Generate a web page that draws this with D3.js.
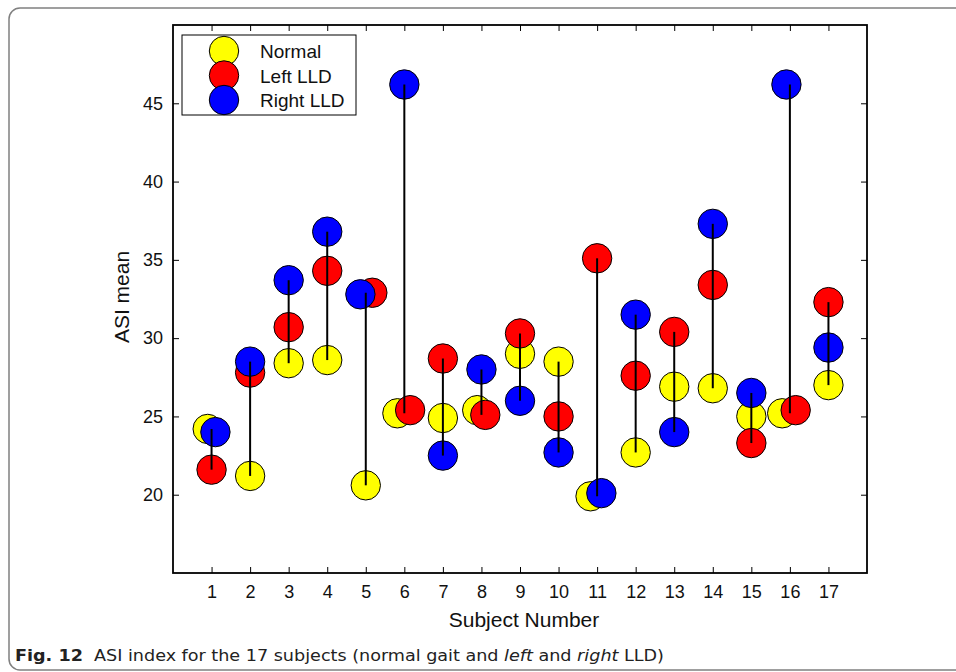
<!DOCTYPE html>
<html>
<head>
<meta charset="utf-8">
<script src="https://cdn.jsdelivr.net/npm/d3@7"></script>
<style>
  body { margin: 0; background: #fff; }
  svg { display: block; font-family: "Liberation Sans", Arial, sans-serif; }
</style>
</head>
<body>
<div id="chart"></div>
<script>
// Data
const subjects = [1, 2, 3, 4, 5, 6, 7, 8, 9, 10, 11, 12, 13, 14, 15, 16, 17];
const normal   = [24.2, 21.2, 28.4, 28.6, 20.6, 25.2, 24.9, 25.4, 29.0, 28.5, 19.9, 22.7, 26.9, 26.8, 25.0, 25.2, 27.0];
const leftLLD  = [21.6, 27.8, 30.7, 34.3, 32.9, 25.4, 28.7, 25.1, 30.3, 25.0, 35.1, 27.6, 30.4, 33.4, 23.3, 25.4, 32.3];
const rightLLD = [24.0, 28.5, 33.7, 36.8, 32.8, 46.2, 22.5, 28.0, 26.0, 22.7, 20.1, 31.5, 24.0, 37.3, 26.5, 46.2, 29.4];
// small sideways shifts (subject units) used in the figure where markers overlap
const normalShift = [-0.1, 0, 0, 0, 0, -0.18, 0, -0.11, 0, 0, -0.17, 0, 0, 0, 0, -0.2, 0];
const leftShift   = [0, 0, 0, 0, 0.17, 0.15, 0, 0.1, 0, 0, 0, 0, 0, 0, 0, 0.15, 0];
const rightShift  = [0.1, 0, 0, 0, -0.14, 0, 0, 0, 0, 0, 0.11, 0, 0, 0, 0, -0.09, 0];
const yTicks = [20, 25, 30, 35, 40, 45];
const seriesNames = ["Normal", "Left LLD", "Right LLD"];
const seriesColors = ["#ffff00", "#ff0000", "#0000ff"];

const W = 956, H = 672;
const plot = { left: 173, right: 867, top: 25, bottom: 573 };

const svg = d3.select("#chart")
    .append("svg")
    .attr("width", W)
    .attr("height", H);

// Outer figure frame
svg.append("rect")
    .attr("x", 9).attr("y", 8)
    .attr("width", 1000).attr("height", 662)
    .attr("rx", 11)
    .attr("fill", "none")
    .attr("stroke", "#808080")
    .attr("stroke-width", 1.5);

// Scales
const x = d3.scaleLinear().domain([0, 18]).range([plot.left, plot.right]);
const y = d3.scaleLinear().domain([15, 50]).range([plot.bottom, plot.top]);

const tickLen = 6;

// Axes (ticks pointing inward, box all around)
const xAxis = svg.append("g")
    .attr("transform", `translate(0,${plot.bottom})`)
    .call(d3.axisBottom(x).tickValues(subjects).tickSizeInner(-tickLen).tickSizeOuter(0).tickPadding(12));
const xTop = svg.append("g")
    .attr("transform", `translate(0,${plot.top})`)
    .call(d3.axisTop(x).tickValues(subjects).tickSizeInner(-tickLen).tickSizeOuter(0).tickFormat(""));
const yAxis = svg.append("g")
    .attr("transform", `translate(${plot.left},0)`)
    .call(d3.axisLeft(y).tickValues(yTicks).tickSizeInner(-tickLen).tickSizeOuter(0).tickPadding(10));
const yRight = svg.append("g")
    .attr("transform", `translate(${plot.right},0)`)
    .call(d3.axisRight(y).tickValues(yTicks).tickSizeInner(-tickLen).tickSizeOuter(0).tickFormat(""));

[xAxis, xTop, yAxis, yRight].forEach(g => {
    g.select(".domain").remove();
    g.selectAll(".tick line").attr("stroke", "#000").attr("stroke-width", 1);
    g.selectAll(".tick text")
        .attr("font-family", "Liberation Sans, Arial, sans-serif")
        .attr("font-size", 18)
        .attr("fill", "#111");
});

// Box
svg.append("rect")
    .attr("x", plot.left).attr("y", plot.top)
    .attr("width", plot.right - plot.left)
    .attr("height", plot.bottom - plot.top)
    .attr("fill", "none")
    .attr("stroke", "#000")
    .attr("stroke-width", 1.8);

// Markers: yellow, then red, then blue on top
const r = 14.7;
const series = [
    { values: normal, shift: normalShift, color: seriesColors[0] },
    { values: leftLLD, shift: leftShift, color: seriesColors[1] },
    { values: rightLLD, shift: rightShift, color: seriesColors[2] }
];
series.forEach(s => {
    svg.append("g")
        .selectAll("circle")
        .data(subjects)
        .join("circle")
        .attr("cx", (d, i) => x(d + s.shift[i]))
        .attr("cy", (d, i) => y(s.values[i]))
        .attr("r", r)
        .attr("fill", s.color)
        .attr("stroke", "#000")
        .attr("stroke-width", 1);
});

// Range lines drawn over the markers
svg.append("g")
    .selectAll("line")
    .data(subjects)
    .join("line")
    .attr("x1", d => x(d))
    .attr("x2", d => x(d))
    .attr("y1", (d, i) => y(Math.min(normal[i], leftLLD[i], rightLLD[i])))
    .attr("y2", (d, i) => y(Math.max(normal[i], leftLLD[i], rightLLD[i])))
    .attr("stroke", "#000")
    .attr("stroke-width", 2);

// Axis labels
svg.append("text")
    .attr("x", (plot.left + plot.right) / 2 + 4)
    .attr("y", 627)
    .attr("text-anchor", "middle")
    .attr("font-size", 21)
    .attr("fill", "#111")
    .text("Subject Number");

svg.append("text")
    .attr("transform", `translate(129,${(plot.top + plot.bottom) / 2 - 2}) rotate(-90)`)
    .attr("text-anchor", "middle")
    .attr("font-size", 21)
    .attr("fill", "#111")
    .text("ASI mean");

// Legend
const legend = svg.append("g");
legend.append("rect")
    .attr("x", 182).attr("y", 35)
    .attr("width", 174).attr("height", 80)
    .attr("fill", "#fff")
    .attr("stroke", "#000")
    .attr("stroke-width", 1);
const legendY = d3.scalePoint().domain(seriesNames).range([51, 100]);
seriesNames.forEach((name, i) => {
    legend.append("circle")
        .attr("cx", 224).attr("cy", legendY(name))
        .attr("r", r)
        .attr("fill", seriesColors[i])
        .attr("stroke", "#000")
        .attr("stroke-width", 1);
    legend.append("text")
        .attr("x", 260).attr("y", legendY(name) + 7)
        .attr("font-size", 19)
        .attr("fill", "#111")
        .text(name);
});

// Caption
const cap = svg.append("text")
    .attr("x", 15).attr("y", 661)
    .attr("font-family", "Liberation Sans Narrow, DejaVu Sans Condensed, Liberation Sans, sans-serif")
    .attr("font-size", 16)
    .attr("fill", "#222")
    .attr("textLength", 649)
    .attr("lengthAdjust", "spacingAndGlyphs");
cap.append("tspan").attr("font-weight", "bold").text("Fig. 12");
cap.append("tspan").text("\u00a0 ASI index for the 17 subjects (normal gait and ");
cap.append("tspan").attr("font-style", "italic").text("left");
cap.append("tspan").text(" and ");
cap.append("tspan").attr("font-style", "italic").text("right");
cap.append("tspan").text(" LLD)");
</script>
</body>
</html>
